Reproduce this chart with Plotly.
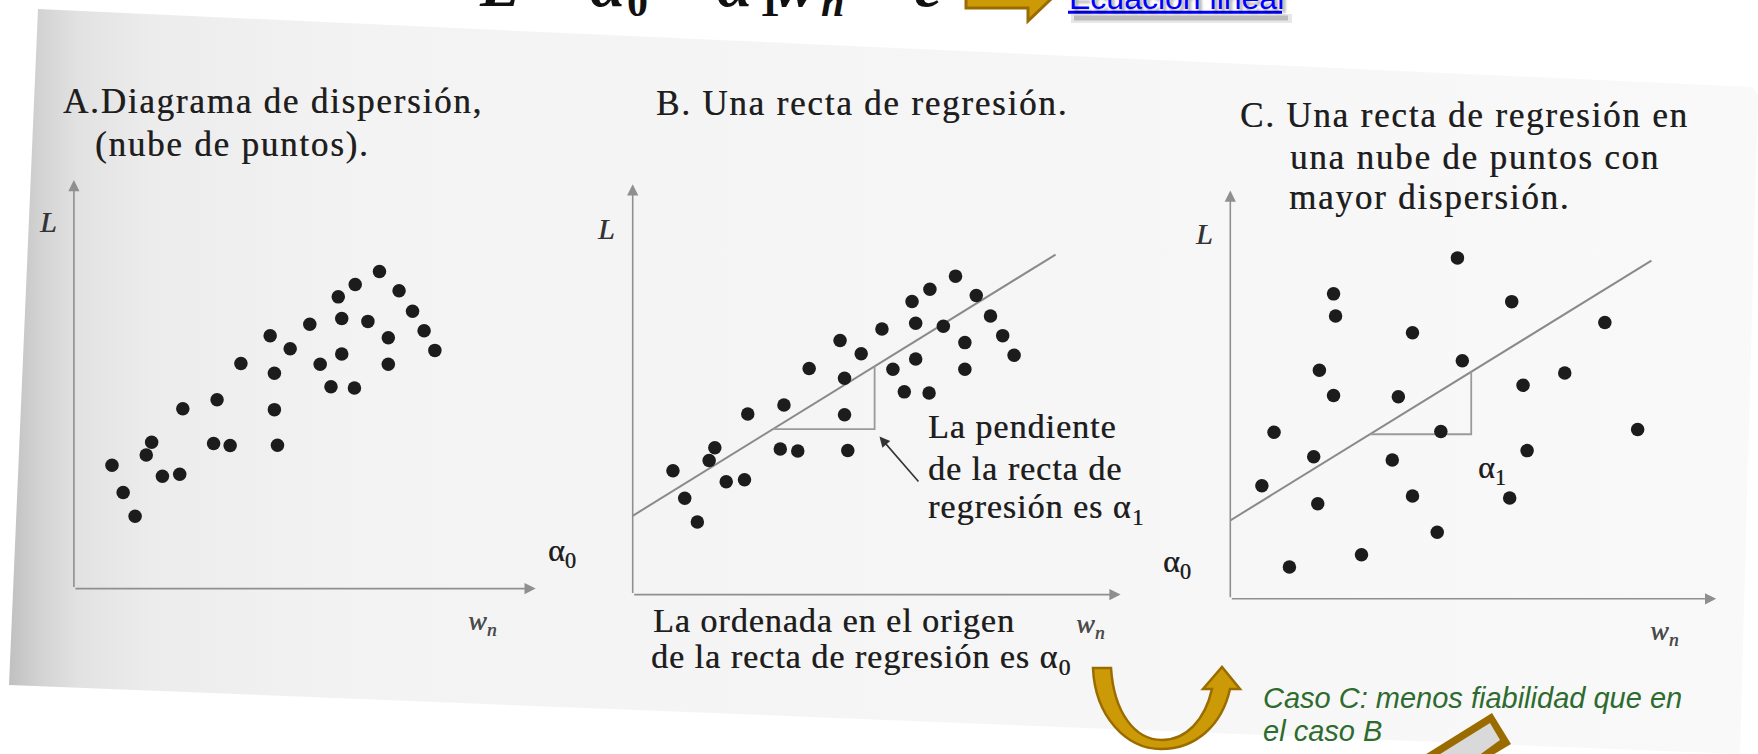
import plotly.graph_objects as go

FIG_W, FIG_H = 1758, 754

# ---------------------------------------------------------------- data
# Point cloud of panels A and B (w_n, L)
cloud_w = [0.99, 1.28, 1.59, 1.88, 2.02, 2.30, 2.75, 2.83, 3.63, 4.06, 3.72,
           4.34, 5.10, 5.21, 5.21, 5.29, 5.62, 6.13, 6.40, 6.68, 6.87, 6.96,
           6.96, 7.29, 7.31, 7.64, 7.94, 8.17, 8.17, 8.45, 8.80, 9.10, 9.38]
cloud_L = [3.02, 2.35, 1.77, 3.27, 3.58, 2.75, 2.80, 4.40, 3.55, 3.50, 4.62,
           5.51, 6.19, 5.27, 4.38, 3.51, 5.87, 6.47, 5.49, 4.94, 7.14, 6.61,
           5.74, 4.91, 7.44, 6.54, 7.76, 6.14, 5.49, 7.29, 6.79, 6.31, 5.83]

# More dispersed cloud of panel C
disp_w = [5.61, 2.55, 2.60, 6.95, 9.25, 4.50, 5.73, 2.20, 8.26, 2.55, 4.15,
          7.23, 1.08, 5.20, 10.06, 2.06, 4.00, 7.33, 0.78, 2.16, 4.50, 6.90,
          5.11, 3.24, 1.46]
disp_L = [8.35, 7.47, 6.93, 7.28, 6.77, 6.52, 5.83, 5.60, 5.53, 4.98, 4.95,
          5.23, 4.08, 4.10, 4.15, 3.48, 3.40, 3.63, 2.77, 2.33, 2.52, 2.47,
          1.63, 1.08, 0.78]

# Regression line  L = alpha0 + alpha1 * w_n
alpha0 = 1.92
alpha1 = 0.612
line_w = [0.0, 10.4]
# run of the slope triangle along w_n
slope_run = [3.45, 5.95]

W_MAX, L_MAX = 12, 10

# ---------------------------------------------------------------- layout helpers
# panel frames in pixels: origin (x0, y0) and arrow tips (x1 on w_n, y1 on L)
FRAMES = [
    dict(x0=73.9, y0=588.6, x1=535.7, y1=180.0),
    dict(x0=632.7, y0=594.6, x1=1120.6, y1=184.2),
    dict(x0=1230.3, y0=598.8, x1=1716.2, y1=190.6),
]

BOOK = "Liberation Serif"
INK = "#1e1e1e"
INK_SPREAD = "0.5px 0 0 rgba(30,30,30,0.75)"   # slightly heavier printed strokes


def reg(w):
    return alpha0 + alpha1 * w


def text(x, y, s, size, color=INK, family=BOOK, xanchor="left",
         yanchor="middle", spacing=None):
    if spacing:
        s = f'<span style="letter-spacing:{spacing}px">{s}</span>'
    return dict(x=x, y=y, xref="x", yref="y", text=s, showarrow=False,
                xanchor=xanchor, yanchor=yanchor, borderpad=0,
                font=dict(family=family, size=size, color=color,
                          shadow=INK_SPREAD))


def paper_text(px, py, s, font, xanchor="left", yanchor="middle"):
    # pixel position converted to paper fractions (may lie past the edge)
    return dict(x=px / FIG_W, y=1 - py / FIG_H, xref="paper", yref="paper",
                text=s, showarrow=False, xanchor=xanchor, yanchor=yanchor,
                borderpad=0, font=font)


fig = go.Figure()

# scanned page (background subplot in pixel units)
page_x = [38, 1752, 1758, 1740, 9, 38]
page_y = [9, 87, 95, 754, 685, 9]
fig.add_trace(go.Scatter(
    x=page_x, y=page_y, xaxis="x", yaxis="y", mode="lines", fill="toself",
    line=dict(width=0, color="rgba(0,0,0,0)"),
    fillgradient=dict(type="horizontal", start=9, stop=1758, colorscale=[
        [0.0, "#c0c0c0"], [0.018, "#d3d3d3"], [0.04, "#e2e2e2"],
        [0.08, "#ececec"], [0.2, "#f3f3f3"], [1.0, "#f9f9f9"]]),
    hoverinfo="skip", showlegend=False))

dot = dict(size=13.5, color="#1c1c1c", line=dict(width=0))

# panel A: point cloud
fig.add_trace(go.Scatter(x=cloud_w, y=cloud_L, mode="markers", marker=dot,
                         xaxis="x2", yaxis="y2", cliponaxis=False,
                         showlegend=False, hoverinfo="skip"))

# panels B and C: cloud + regression line + slope triangle
tri_w = [slope_run[0], slope_run[1], slope_run[1]]
tri_L = [reg(slope_run[0]), reg(slope_run[0]), reg(slope_run[1])]
for xa, ya, ws, ls in [("x3", "y3", cloud_w, cloud_L),
                       ("x4", "y4", disp_w, disp_L)]:
    fig.add_trace(go.Scatter(x=line_w, y=[reg(w) for w in line_w],
                             mode="lines", line=dict(color="#8a8a8a", width=2),
                             xaxis=xa, yaxis=ya, cliponaxis=False,
                             showlegend=False, hoverinfo="skip"))
    fig.add_trace(go.Scatter(x=tri_w, y=tri_L, mode="lines",
                             line=dict(color="#9a9a9a", width=1.8),
                             xaxis=xa, yaxis=ya, cliponaxis=False,
                             showlegend=False, hoverinfo="skip"))
    fig.add_trace(go.Scatter(x=ws, y=ls, mode="markers", marker=dot,
                             xaxis=xa, yaxis=ya, cliponaxis=False,
                             showlegend=False, hoverinfo="skip"))

layout_axes = dict(
    xaxis=dict(domain=[0, 1], range=[0, FIG_W], visible=False),
    yaxis=dict(domain=[0, 1], range=[FIG_H, 0], visible=False),
)
for i, fr in enumerate(FRAMES, start=2):
    layout_axes[f"xaxis{i}"] = dict(
        domain=[fr["x0"] / FIG_W, fr["x1"] / FIG_W], range=[0, W_MAX],
        anchor=f"y{i}", visible=False)
    layout_axes[f"yaxis{i}"] = dict(
        domain=[1 - fr["y0"] / FIG_H, 1 - fr["y1"] / FIG_H], range=[0, L_MAX],
        anchor=f"x{i}", visible=False)

annotations = []
# axis arrows
for i in (2, 3, 4):
    for tip in ((W_MAX, 0), (0, L_MAX)):
        annotations.append(dict(
            x=tip[0], y=tip[1], ax=0, ay=0, xref=f"x{i}", yref=f"y{i}",
            axref=f"x{i}", ayref=f"y{i}", text="", showarrow=True,
            arrowhead=2, arrowsize=1.4, arrowwidth=1.6,
            arrowcolor="#8f8f8f", standoff=0, startstandoff=0))

# pointer to the slope triangle in panel B
annotations.append(dict(
    x=6.07, y=3.85, ax=7.06, ay=2.72, xref="x3", yref="y3", axref="x3",
    ayref="y3", text="", showarrow=True, arrowhead=2, arrowsize=1.3,
    arrowwidth=1.6, arrowcolor="#333333", standoff=0))

TS = 35      # heading size
SP = 1.8     # heading letter spacing
annotations += [
    # panel A
    text(62, 101, "A.Diagrama de dispersión,", TS, spacing=SP),
    text(94, 144, "(nube de puntos).", TS, spacing=SP),
    text(48, 221, "<i>L</i>", 30, color="#333333", xanchor="center"),
    text(482, 622, "<i>w<sub>n</sub></i>", 28, color="#4a4a4a",
         xanchor="center"),
    # panel B
    text(655, 103, "B. Una recta de regresión.", TS, spacing=SP),
    text(606, 228, "<i>L</i>", 30, color="#333333", xanchor="center"),
    text(562, 552, "α<sub>0</sub>", 32, xanchor="center"),
    text(1090, 625, "<i>w<sub>n</sub></i>", 28, color="#4a4a4a",
         xanchor="center"),
    text(927, 426, "La pendiente", 34, spacing=1),
    text(927, 468, "de la recta de", 34, spacing=1),
    text(927, 509, "regresión es α<sub>1</sub>", 34, spacing=1),
    text(652, 620, "La ordenada en el origen", 34, spacing=1),
    text(650, 659, "de la recta de regresión es α<sub>0</sub>", 34, spacing=1),
    # panel C
    text(1239, 115, "C. Una recta de regresión en", TS, spacing=SP),
    text(1289, 157, "una nube de puntos con", TS, spacing=SP),
    text(1288, 197, "mayor dispersión.", TS, spacing=SP),
    text(1204, 233, "<i>L</i>", 30, color="#333333", xanchor="center"),
    text(1177, 563, "α<sub>0</sub>", 32, xanchor="center"),
    text(1492, 469, "α<sub>1</sub>", 32, xanchor="center"),
    text(1664, 632, "<i>w<sub>n</sub></i>", 28, color="#4a4a4a",
         xanchor="center"),
    # link
    paper_text(1068, -1.8, "Ecuación lineal",
               dict(family="Liberation Sans", size=32, color="#0000ff",
                    shadow="3px 4px 3px rgba(0,0,0,0.35)")),
    # note
    paper_text(1262, 698, "<i>Caso C: menos fiabilidad que en</i>",
               dict(family="Liberation Sans", size=29, color="#2e6b2e")),
    paper_text(1262, 731, "<i>el caso B</i>",
               dict(family="Liberation Sans", size=29, color="#2e6b2e")),
]

# equation L = α0 + α1 wn + ε running off the top edge, set glyph by glyph
EQ_SIZE, EQ_BASE = 64, 5          # main glyphs
SUB_SIZE, SUB_BASE = 42, 15       # subscripts
eq_glyphs = [
    (499, "<i>L</i>", False), (556, "=", False), (608, "<i>α</i>", False),
    (637, "0", True), (682, "+", False), (735, "<i>α</i>", False),
    (769, "1", True), (795, "<i>w</i>", False), (832, "<i>n</i>", True),
    (872, "+", False), (928, "<i>ε</i>", False),
]
for gx, g, is_sub in eq_glyphs:
    size, base = (SUB_SIZE, SUB_BASE) if is_sub else (EQ_SIZE, EQ_BASE)
    annotations.append(paper_text(
        gx, base - 0.891 * size, f"<b>{g}</b>",
        dict(family=BOOK, size=size, color="#111111"),
        xanchor="center", yanchor="top"))


def brace(xr, yr, x_in, x_out, y0, y1):
    xm = (x_in + x_out) / 2
    ym = (y0 + y1) / 2
    d = (y1 - y0) * 0.1
    path = (f"M {x_in},{y1} Q {xm},{y1} {xm},{y1 - d} L {xm},{ym + d} "
            f"Q {xm},{ym} {x_out},{ym} Q {xm},{ym} {xm},{ym - d} "
            f"L {xm},{y0 + d} Q {xm},{y0} {x_in},{y0}")
    return dict(type="path", path=path, xref=xr, yref=yr,
                line=dict(color="#a8a8a8", width=1.3), layer="above")


GOLD, GOLD_EDGE = "#cc9a06", "#9a6c00"
shapes = [
    brace("x3", "y3", -0.12, -0.5, 0, alpha0),
    brace("x4", "y4", -0.12, -0.5, 0, alpha0),
    # block arrow at the top edge
    dict(type="path", xref="x", yref="y", layer="above",
         path="M 966,-29 L 1028,-29 L 1028,-41 L 1060.5,-10 L 1028,21 "
              "L 1028,8 L 966,8 Z",
         fillcolor=GOLD, line=dict(color=GOLD_EDGE, width=3)),
    # link underline and its shadow
    dict(type="rect", xref="x", yref="y", layer="above", x0=1071, x1=1292,
         y0=14, y1=23, fillcolor="rgba(120,120,120,0.18)", line=dict(width=0)),
    dict(type="rect", xref="x", yref="y", layer="above", x0=1074, x1=1288,
         y0=15.5, y1=20.5, fillcolor="rgba(90,90,90,0.3)", line=dict(width=0)),
    dict(type="line", xref="x", yref="y", layer="above", x0=1068, x1=1282,
         y0=12.2, y1=12.2, line=dict(color="#0000ff", width=3)),
    # curved U arrow
    dict(type="path", xref="x", yref="y", layer="above",
         path="M 1093,668 C 1095,716 1126,749 1161,749 "
              "C 1196,749 1222,725 1230,689 L 1240,689 L 1222,667 "
              "L 1203,689 L 1212,689 C 1205,720 1186,740 1162,740 "
              "C 1135,740 1114,713 1111,668 Z",
         fillcolor=GOLD, line=dict(color=GOLD_EDGE, width=2.5)),
    # tilted box at the bottom edge
    dict(type="path", xref="x", yref="y", layer="above",
         path="M 1423,756 L 1492,713 L 1511,744 L 1491,756 Z",
         fillcolor="#9a6c00", line=dict(width=0)),
    dict(type="path", xref="x", yref="y", layer="above",
         path="M 1437,756 L 1490,723 L 1500,740 L 1478,756 Z",
         fillcolor="#d9d9d9", line=dict(width=0)),
]

fig.update_layout(
    width=FIG_W, height=FIG_H, autosize=False,
    margin=dict(l=0, r=0, t=0, b=0, pad=0),
    paper_bgcolor="#ffffff", plot_bgcolor="rgba(0,0,0,0)",
    showlegend=False, annotations=annotations, shapes=shapes,
    **layout_axes,
)

fig.write_html("out.html")
